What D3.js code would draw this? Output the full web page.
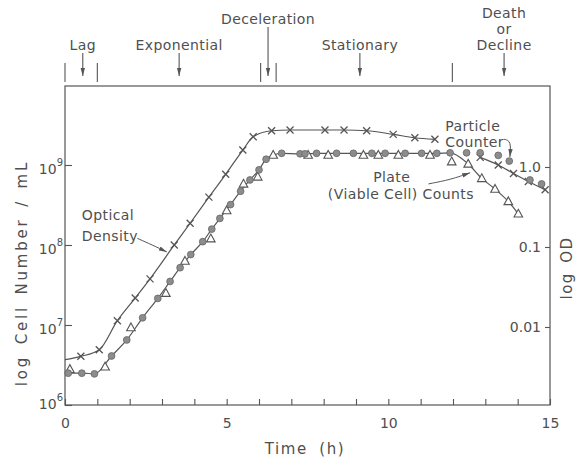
<!DOCTYPE html>
<html>
<head>
<meta charset="utf-8">
<script src="https://cdn.jsdelivr.net/npm/d3@7"></script>
<style>
  body { margin: 0; background: #fff; }
  svg text { font-family: "DejaVu Sans", sans-serif; fill: #4f4f4f; }
</style>
</head>
<body>
<script>
// ----- Data -----
// Optical density (x symbols), read on the right-hand log OD axis
const odStart = 0.0039;           // fitted curve at t = 0
const odTime = [0.49, 1.06, 1.62, 2.17, 2.63, 3.38, 3.87, 4.45, 4.97, 5.50, 5.82, 6.39,
                6.96, 8.04, 8.63, 9.33, 10.15, 10.82, 11.44, 12.84, 13.40, 13.87, 14.33, 14.85];
const odValue = [0.0043, 0.0052, 0.012, 0.023, 0.040, 0.106, 0.198, 0.42, 0.81, 1.63, 2.39, 2.84,
                 2.90, 2.90, 2.90, 2.84, 2.56, 2.32, 2.22, 1.32, 1.06, 0.83, 0.66, 0.52];

// Particle counter (filled dots), cells / mL
const particleTime = [0.10, 0.52, 0.91, 1.44, 1.91, 2.40, 2.87, 3.25, 3.56, 3.89, 4.26, 4.54,
                      4.79, 5.12, 5.43, 5.72, 6.00, 6.22, 6.70, 7.27, 7.42, 7.78, 8.40, 8.92,
                      9.49, 9.90, 10.52, 11.03, 11.50, 11.91, 12.42, 12.84, 13.40, 13.74, 14.38, 14.74];
const particleCount = [2.5e6, 2.5e6, 2.45e6, 4.1e6, 6.5e6, 1.23e7, 2.15e7, 3.5e7, 5.2e7, 7.6e7, 1.1e8, 1.58e8,
                       2.15e8, 3.2e8, 4.7e8, 6.5e8, 8.7e8, 1.18e9, 1.4e9, 1.38e9, 1.38e9, 1.4e9, 1.4e9, 1.4e9,
                       1.4e9, 1.4e9, 1.4e9, 1.4e9, 1.4e9, 1.42e9, 1.42e9, 1.42e9, 1.32e9, 1.12e9, 6.5e8, 5.8e8];

// Plate (viable cell) counts (open triangles), cells / mL
const plateTime = [0.15, 1.24, 2.04, 3.12, 3.71, 4.51, 5.00, 5.52, 5.96, 6.44, 7.52, 8.14,
                   9.23, 9.69, 10.31, 11.29, 11.96, 12.47, 12.89, 13.30, 13.71, 14.02];
const plateCount = [2.8e6, 3.0e6, 9.3e6, 2.5e7, 6.3e7, 1.2e8, 2.7e8, 5.8e8, 7.1e8, 1.33e9, 1.33e9, 1.33e9,
                    1.33e9, 1.33e9, 1.33e9, 1.33e9, 1.1e9, 1.03e9, 6.8e8, 5.0e8, 3.5e8, 2.45e8];

// Growth phases
const phaseBounds = [0, 1, 6.05, 6.53, 11.98];
const phaseArrow = [0.55, 3.53, 6.28, 9.12, 13.58];
const phaseLabel = [["Lag"], ["Exponential"], ["Deceleration"], ["Stationary"], ["Death", "or", "Decline"]];
const phaseLift = [0, 0, 26, 0, 0];

// Axis ticks
const timeTicks = d3.range(0, 16);
const cellTicks = [1e6, 1e7, 1e8, 1e9];
const odTicks = [1, 0.1, 0.01];
const odTickLabel = ["1.0", "0.1", "0.01"];

// ----- Layout -----
const W = 577, H = 460;
const LEFT = 65, RIGHT = 550, TOP = 86, BOTTOM = 405;
const INK = "#555";

const x = d3.scaleLinear().domain([0, 15]).range([LEFT, RIGHT]);
const y = d3.scaleLog().domain([1e6, 1e10]).range([BOTTOM, BOTTOM - 320]);
const yOD = d3.scaleLog().domain([0.001, 10]).range([BOTTOM + 2, BOTTOM - 318]);

const svg = d3.select("body").append("svg")
  .attr("width", W)
  .attr("height", H);

svg.append("defs").append("marker")
  .attr("id", "head")
  .attr("viewBox", "0 -3 8 6")
  .attr("refX", 8).attr("refY", 0)
  .attr("markerWidth", 8).attr("markerHeight", 6)
  .attr("markerUnits", "userSpaceOnUse")
  .attr("orient", "auto")
  .append("path")
  .attr("d", "M0,-2.2L8,0L0,2.2Z")
  .attr("fill", INK);

// ----- Frame -----
svg.append("rect")
  .attr("x", LEFT).attr("y", TOP)
  .attr("width", RIGHT - LEFT).attr("height", BOTTOM - TOP)
  .attr("fill", "none").attr("stroke", INK).attr("stroke-width", 1.2);

// ----- Axes -----
function styleAxis(g) {
  g.select(".domain").remove();
  g.selectAll(".tick line").attr("stroke", INK).attr("stroke-width", 1.1);
  g.attr("font-family", null).attr("font-size", 14);
}

const xAxis = svg.append("g")
  .attr("transform", `translate(0,${BOTTOM})`)
  .call(d3.axisBottom(x).tickValues(timeTicks).tickSize(-6).tickPadding(13)
    .tickFormat(d => d % 5 === 0 ? d : ""))
  .call(styleAxis);

const yAxis = svg.append("g")
  .attr("transform", `translate(${LEFT},0)`)
  .call(d3.axisLeft(y).tickValues(cellTicks).tickSize(-7).tickPadding(2))
  .call(styleAxis);

// powers of ten with superscript exponents
yAxis.selectAll(".tick text").each(function(d, i) {
  const t = d3.select(this).text(null)
    .attr("dy", i === 0 ? "3px" : "8px");
  t.append("tspan").text("10");
  t.append("tspan").attr("dy", "-8px").attr("font-size", 10).text(Math.round(Math.log10(d)));
});

const odAxis = svg.append("g")
  .attr("transform", `translate(${RIGHT},0)`)
  .call(d3.axisRight(yOD).tickValues(odTicks).tickSize(-5)
    .tickFormat((d, i) => odTickLabel[i]))
  .call(styleAxis);
odAxis.selectAll(".tick text")
  .attr("x", -9)
  .attr("text-anchor", "end");

svg.append("text")
  .attr("x", 305).attr("y", 454)
  .attr("text-anchor", "middle")
  .attr("font-size", 15)
  .attr("letter-spacing", 1.6)
  .attr("word-spacing", 5)
  .text("Time (h)");

svg.append("text")
  .attr("transform", "translate(27,273) rotate(-90)")
  .attr("text-anchor", "middle")
  .attr("font-size", 15)
  .attr("letter-spacing", 2.8)
  .attr("word-spacing", 3)
  .text("log Cell Number / mL");

svg.append("text")
  .attr("transform", "translate(572,268) rotate(-90)")
  .attr("text-anchor", "middle")
  .attr("font-size", 15)
  .attr("letter-spacing", 1.5)
  .attr("word-spacing", 3)
  .text("log OD");

// ----- Phase markers above the plot -----
const phases = svg.append("g").attr("stroke", INK).attr("stroke-width", 1.1);

phases.selectAll("line.bound")
  .data(phaseBounds)
  .enter()
  .append("line")
    .attr("class", "bound")
    .attr("x1", d => x(d)).attr("x2", d => x(d))
    .attr("y1", 63).attr("y2", 82);

phases.selectAll("line.arrow")
  .data(phaseArrow)
  .enter()
  .append("line")
    .attr("class", "arrow")
    .attr("x1", d => x(d)).attr("x2", d => x(d))
    .attr("y1", (d, i) => 53 - phaseLift[i]).attr("y2", 76)
    .attr("marker-end", "url(#head)");

phaseLabel.forEach((lines, i) => {
  const txt = svg.append("text")
    .attr("text-anchor", "middle")
    .attr("font-size", 14)
    .attr("letter-spacing", 0.4);
  lines.forEach((s, j) => {
    txt.append("tspan")
      .attr("x", x(phaseArrow[i]))
      .attr("y", 50 - phaseLift[i] - (lines.length - 1 - j) * 16)
      .text(s);
  });
});

// ----- Curves -----
const od = odTime.map((t, i) => ({ t, v: odValue[i] }));
const particle = particleTime.map((t, i) => ({ t, v: particleCount[i] }));
const plate = plateTime.map((t, i) => ({ t, v: plateCount[i] }));

const odLine = d3.line()
  .x(d => x(d.t)).y(d => yOD(d.v))
  .curve(d3.curveMonotoneX);
const cellLine = d3.line()
  .x(d => x(d.t)).y(d => y(d.v))
  .curve(d3.curveMonotoneX);

const curves = svg.append("g")
  .attr("fill", "none")
  .attr("stroke", INK)
  .attr("stroke-width", 1.2);

// OD trace is interrupted behind the "Counter" label
curves.append("path")
  .attr("d", odLine([{ t: 0, v: odStart }].concat(od.filter(d => d.t < 12))));
curves.append("path")
  .attr("d", odLine(od.filter(d => d.t > 12)));

// one trace for both counts until the plate counts fall away
curves.append("path")
  .attr("d", cellLine(particle.filter(d => d.t < 12).concat(plate.filter(d => d.t > 12.2))));

// ----- Symbols -----
svg.append("g").selectAll("path")
  .data(od)
  .enter()
  .append("path")
    .attr("transform", d => `translate(${x(d.t)},${yOD(d.v)})`)
    .attr("d", "M-3.5,-3.5L3.5,3.5M-3.5,3.5L3.5,-3.5")
    .attr("stroke", INK)
    .attr("stroke-width", 1.3);

svg.append("g").selectAll("path")
  .data(plate)
  .enter()
  .append("path")
    .attr("transform", d => `translate(${x(d.t)},${y(d.v)})`)
    .attr("d", "M0,-4.6L4.3,3.2L-4.3,3.2Z")
    .attr("fill", "#fff")
    .attr("stroke", INK)
    .attr("stroke-width", 1.1);

svg.append("g").selectAll("circle")
  .data(particle)
  .enter()
  .append("circle")
    .attr("cx", d => x(d.t))
    .attr("cy", d => y(d.v))
    .attr("r", 3.4)
    .attr("fill", "#8c8c8c")
    .attr("stroke", "#666")
    .attr("stroke-width", 0.8);

// ----- Annotations -----
const notes = [
  { text: "Optical", t: 0.52, v: 2.05e8 },
  { text: "Density", t: 0.52, v: 1.12e8 },
  { text: "Particle", t: 11.76, v: 2.66e9 },
  { text: "Counter", t: 11.76, v: 1.7e9 },
  { text: "Plate", t: 9.53, v: 6.2e8 },
  { text: "(Viable Cell) Counts", t: 8.13, v: 3.8e8 }
];

svg.append("g").selectAll("text")
  .data(notes)
  .enter()
  .append("text")
    .attr("x", d => x(d.t))
    .attr("y", d => y(d.v))
    .attr("font-size", 14)
    .attr("letter-spacing", 0.4)
    .text(d => d.text);

const pointers = [
  [{ t: 2.24, v: 1.21e8 }, { t: 2.70, v: 1.0e8 }, { t: 3.15, v: 8.2e7 }],
  [{ t: 11.24, v: 5.8e8 }, { t: 11.95, v: 6.6e8 }, { t: 12.53, v: 8.0e8 }],
  [{ t: 13.58, v: 2.1e9 }, { t: 13.80, v: 2.0e9 }, { t: 13.76, v: 1.26e9 }]
];

const pointerLine = d3.line()
  .x(d => x(d.t)).y(d => y(d.v))
  .curve(d3.curveBasis);

svg.append("g").selectAll("path")
  .data(pointers)
  .enter()
  .append("path")
    .attr("d", pointerLine)
    .attr("fill", "none")
    .attr("stroke", INK)
    .attr("stroke-width", 1)
    .attr("marker-end", "url(#head)");
</script>
</body>
</html>
